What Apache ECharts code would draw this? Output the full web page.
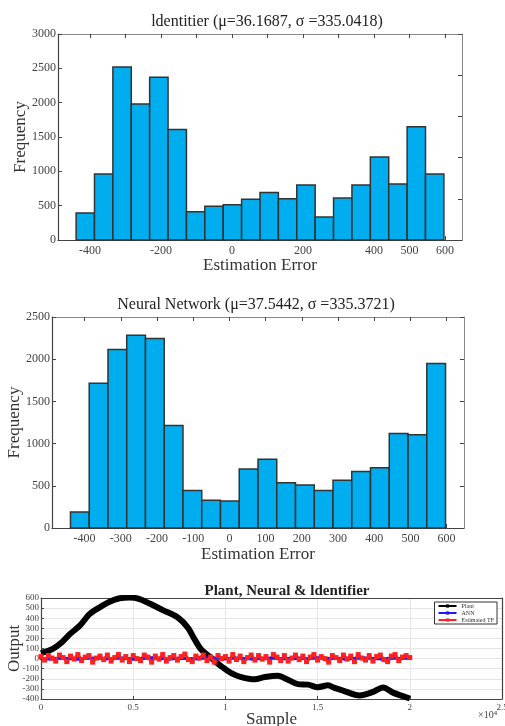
<!DOCTYPE html>
<html>
<head>
<meta charset="utf-8">
<script src="https://cdn.jsdelivr.net/npm/echarts@6/dist/echarts.min.js"></script>
<style>
  html, body { margin: 0; padding: 0; background: #fff; }
  #main { width: 505px; height: 726px; }
</style>
</head>
<body>
<div id="main"></div>
<script>
// bin edges (shared by both histograms)
var binEdges = [-439, -387.2, -335.4, -283.6, -231.8, -180, -128.2, -76.4, -24.6, 27.2, 79,
  130.8, 182.6, 234.4, 286.2, 338, 389.8, 441.6, 493.4, 545.2, 597];

// counts
var identCounts = [395, 960, 2520, 1980, 2370, 1610, 410, 490, 515, 595,
  690, 600, 800, 335, 610, 800, 1210, 815, 1650, 960];
var neuralCounts = [190, 1715, 2115, 2285, 2245, 1215, 445, 330, 320, 700,
  815, 535, 510, 445, 565, 670, 715, 1120, 1105, 1950];

var histTicks = [-400, -300, -200, -100, 0, 100, 200, 300, 400, 500, 600];
var identLabels = [-400, -200, 0, 200, 400, 500, 600];
var neuralLabels = [-400, -300, -200, -100, 0, 100, 200, 300, 400, 500, 600];

// bottom chart: plant output [sample, value]
var plantData = [[0, 55], [640, 97], [1100, 157], [1550, 240], [2090, 323], [2630, 440],
  [3180, 507], [3720, 563], [4260, 597], [4800, 605], [5350, 590], [5890, 545],
  [6610, 480], [7420, 407], [7960, 307], [8330, 190], [8690, 90], [9230, 7],
  [9780, -77], [10320, -143], [10860, -183], [11580, -205], [12130, -183], [12850, -170],
  [13390, -210], [13930, -253], [14480, -258], [15020, -283], [15560, -265], [15920, -290],
  [16380, -317], [17280, -365], [18000, -330], [18550, -285], [19090, -337], [20000, -395]];

// ANN output, one value every 500 samples
var annStep = 500;
var annValues = [2, -3, 4, 0, -5, 3, 6, -2, 1, 5,
  -4, 2, 7, 0, -3, 4, 1, -2, 5, 3,
  -1, 6, 0, -4, 2, 5, -3, 1, 4, -2,
  6, 0, 3, -5, 2, 7, 1, -3, 5, 0,
  4];

// estimated TF output, one value every 200 samples
var tfStep = 200;
var tfValues = [20, -15, 30, 5, -25, 35, 10, -30, 25, -5,
  40, -20, 15, 30, -35, 5, 25, -10, 35, -25,
  10, 40, -15, 20, -30, 30, 0, -20, 35, 15,
  -35, 25, -5, 40, -25, 10, 30, -15, 20, 45,
  -10, -30, 25, 5, 35, -20, 15, -35, 30, 0,
  20, -25, 40, -10, 25, -30, 10, 35, -15, 30,
  -5, 20, -35, 40, 15, -20, 30, -25, 5, 35,
  -10, 25, -30, 15, 40, -15, 20, 0, -35, 30,
  10, -20, 35, -5, 25, -30, 40, 5, -15, 30,
  -25, 20, 35, -10, -30, 25, 40, -20, 15, 30,
  10];

var serif = 'Liberation Serif';
var axisColor = '#444';
var plain = function (v) { return String(v); };

function histData(counts) {
  return counts.map(function (c, i) { return [binEdges[i], binEdges[i + 1], c]; });
}
function renderBar(params, api) {
  var p0 = api.coord([api.value(0), api.value(2)]);
  var p1 = api.coord([api.value(1), 0]);
  return {
    type: 'rect',
    shape: { x: p0[0], y: p0[1], width: p1[0] - p0[0], height: p1[1] - p0[1] },
    style: { fill: '#00AEEF', stroke: '#333', lineWidth: 1.5 }
  };
}
function histX(grid, labels, gap) {
  return [{
    type: 'value', gridIndex: grid, min: -490, max: 648, position: 'bottom',
    name: 'Estimation Error', nameLocation: 'middle', nameGap: gap, nameMoveOverlap: false,
    nameTextStyle: { fontFamily: serif, fontSize: 17, color: '#333' },
    axisLine: { onZero: false, lineStyle: { color: axisColor, width: 1.2 } },
    axisTick: { inside: true, length: 4, customValues: histTicks, lineStyle: { color: axisColor } },
    axisLabel: { customValues: labels, margin: 5, fontFamily: serif, fontSize: 12, color: '#444', formatter: plain },
    splitLine: { show: false }
  }, {
    type: 'value', gridIndex: grid, min: -490, max: 648, position: 'top',
    axisLine: { onZero: false, lineStyle: { color: '#888', width: 1 } },
    axisTick: { inside: true, length: 4, customValues: histTicks, lineStyle: { color: axisColor } },
    axisLabel: { show: false }, splitLine: { show: false }
  }];
}
function histY(grid, max, rightInterval) {
  return [{
    type: 'value', gridIndex: grid, min: 0, max: max, interval: 500, position: 'left',
    name: 'Frequency', nameLocation: 'middle', nameGap: 29, nameMoveOverlap: false,
    nameTextStyle: { fontFamily: serif, fontSize: 17, color: '#333' },
    axisLine: { show: true, onZero: false, lineStyle: { color: axisColor, width: 1.2 } },
    axisTick: { show: true, inside: true, length: 4, lineStyle: { color: axisColor } },
    axisLabel: { margin: 2, fontFamily: serif, fontSize: 12, color: '#444', formatter: plain },
    splitLine: { show: false }
  }, {
    type: 'value', gridIndex: grid, min: 0, max: max, interval: rightInterval, position: 'right',
    axisLine: { show: true, onZero: false, lineStyle: { color: '#888', width: 1 } },
    axisTick: { show: true, inside: true, length: 4, lineStyle: { color: axisColor } },
    axisLabel: { show: false }, splitLine: { show: false }
  }];
}

var chart = echarts.init(document.getElementById('main'));

var option = {
  animation: false,
  backgroundColor: '#fff',
  title: [
    { text: 'ldentitier (\u03bc=36.1687, \u03c3 =335.0418)', left: 262, top: 9, textAlign: 'center',
      textStyle: { fontFamily: serif, fontSize: 16, fontWeight: 'normal', color: '#222' } },
    { text: 'Neural Network (\u03bc=37.5442, \u03c3 =335.3721)', left: 251, top: 292, textAlign: 'center',
      textStyle: { fontFamily: serif, fontSize: 16, fontWeight: 'normal', color: '#222' } },
    { text: 'Plant, Neural & ldentifier', left: 282, top: 579, textAlign: 'center',
      textStyle: { fontFamily: serif, fontSize: 15, fontWeight: 'bold', color: '#222' } }
  ],
  grid: [
    { left: 58, right: 43, top: 34, height: 206, outerBoundsMode: 'none' },
    { left: 52, right: 41, top: 317, height: 211, outerBoundsMode: 'none' },
    { left: 41, right: 3, top: 598, height: 101, outerBoundsMode: 'none' }
  ],
  legend: {
    data: ['Plant', 'ANN', 'Estimated TF'],
    orient: 'vertical', right: 8, top: 602,
    itemWidth: 18, itemHeight: 4, itemGap: 1, padding: [1, 3, 1, 3],
    borderColor: '#333', borderWidth: 1, backgroundColor: '#fff',
    textStyle: { fontFamily: serif, fontSize: 6, color: '#333' }
  },
  xAxis: histX(0, identLabels, 17).concat(histX(1, neuralLabels, 18)).concat([{
    type: 'value', gridIndex: 2, min: 0, max: 25000, interval: 5000, position: 'bottom',
    name: 'Sample', nameLocation: 'middle', nameGap: 12, nameMoveOverlap: false,
    nameTextStyle: { fontFamily: serif, fontSize: 17, color: '#333' },
    axisLine: { onZero: false, lineStyle: { color: axisColor, width: 1.2 } },
    axisTick: { inside: true, length: 3, lineStyle: { color: axisColor } },
    axisLabel: { margin: 4, fontFamily: serif, fontSize: 9, color: '#444',
      formatter: function (v) { return String(v / 10000); } },
    splitLine: { show: true, lineStyle: { color: '#e6e6e6', width: 1 } }
  }, {
    type: 'value', gridIndex: 2, min: 0, max: 25000, position: 'top',
    axisLine: { onZero: false, lineStyle: { color: axisColor, width: 1.2 } },
    axisTick: { show: false }, axisLabel: { show: false }, splitLine: { show: false }
  }]),
  yAxis: histY(0, 3000, 600).concat(histY(1, 2500, 500)).concat([{
    type: 'value', gridIndex: 2, min: -400, max: 600, interval: 100, position: 'left',
    name: 'Output', nameLocation: 'middle', nameGap: 18, nameMoveOverlap: false,
    nameTextStyle: { fontFamily: serif, fontSize: 17, color: '#333' },
    axisLine: { show: true, onZero: false, lineStyle: { color: axisColor, width: 1.2 } },
    axisTick: { show: true, inside: true, length: 3, lineStyle: { color: axisColor } },
    axisLabel: { margin: 2, fontFamily: serif, fontSize: 9, color: '#444', formatter: plain },
    splitLine: { show: true, lineStyle: { color: '#e6e6e6', width: 1 } }
  }, {
    type: 'value', gridIndex: 2, min: -400, max: 600, interval: 100, position: 'right',
    axisLine: { show: true, onZero: false, lineStyle: { color: axisColor, width: 1.2 } },
    axisTick: { show: false }, axisLabel: { show: false }, splitLine: { show: false }
  }]),
  series: [
    { type: 'custom', xAxisIndex: 0, yAxisIndex: 0, renderItem: renderBar,
      encode: { x: [0, 1], y: 2 }, data: histData(identCounts) },
    { type: 'custom', xAxisIndex: 2, yAxisIndex: 2, renderItem: renderBar,
      encode: { x: [0, 1], y: 2 }, data: histData(neuralCounts) },
    { name: 'Plant', type: 'line', xAxisIndex: 4, yAxisIndex: 4, data: plantData,
      smooth: 0.3, symbol: 'rect', symbolSize: 4, showSymbol: false,
      lineStyle: { color: '#000', width: 6 }, itemStyle: { color: '#000' } },
    { name: 'ANN', type: 'line', xAxisIndex: 4, yAxisIndex: 4,
      data: annValues.map(function (v, i) { return [i * annStep, v]; }),
      symbol: 'rect', symbolSize: 3,
      lineStyle: { color: '#1a1aff', width: 3 }, itemStyle: { color: '#1a1aff' } },
    { name: 'Estimated TF', type: 'line', xAxisIndex: 4, yAxisIndex: 4,
      data: tfValues.map(function (v, i) { return [i * tfStep, v]; }),
      symbol: 'rect', symbolSize: 5,
      lineStyle: { color: '#ff2020', width: 3 }, itemStyle: { color: '#ff2020' } }
  ],
  graphic: [
    { type: 'text', left: 478, top: 710,
      style: { text: '\u00d710\u2074', fontFamily: serif, fontSize: 10, fill: '#444' } }
  ]
};

chart.setOption(option);

window.addEventListener('resize', function () {
  chart.resize();
});
</script>
</body>
</html>
